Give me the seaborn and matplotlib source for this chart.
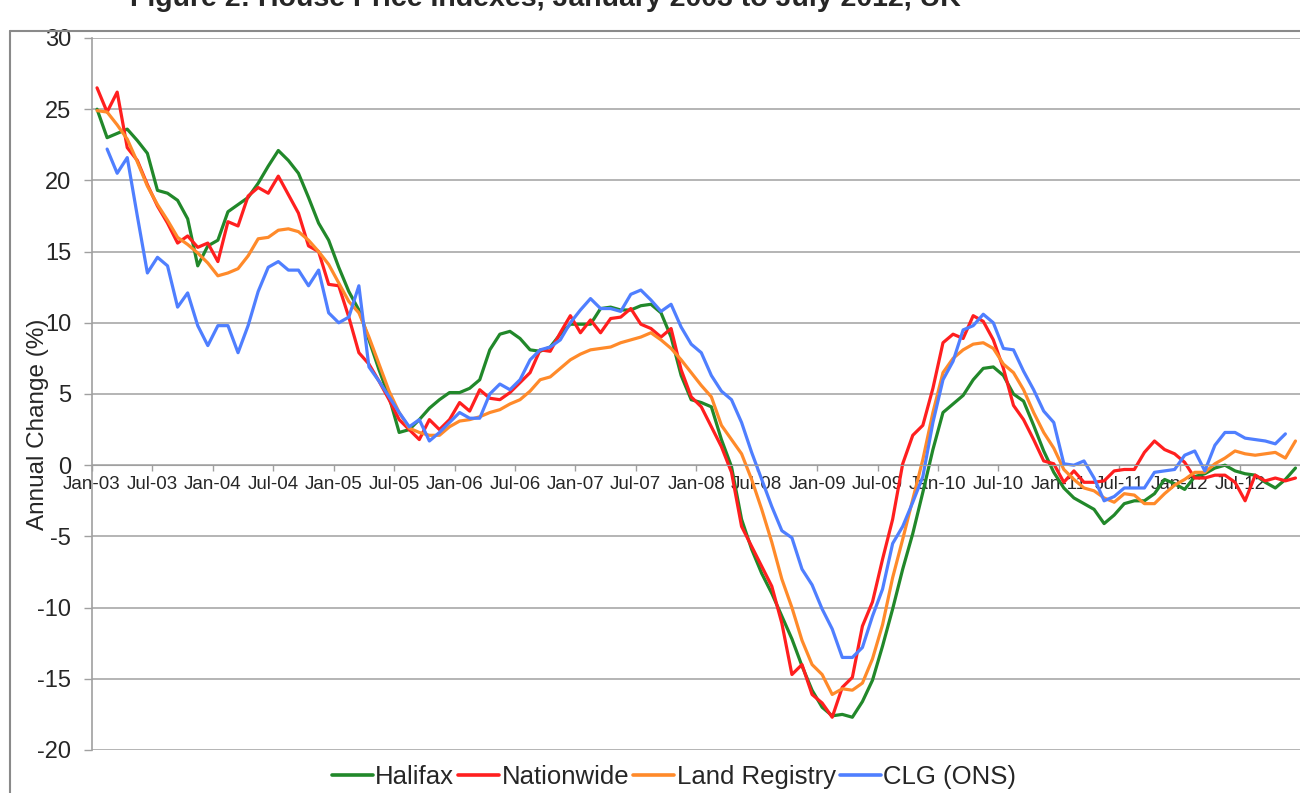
import numpy as np
import pandas as pd
import matplotlib
matplotlib.use("Agg")
import matplotlib.pyplot as plt
import matplotlib.transforms as mtransforms
from matplotlib.lines import Line2D
import seaborn as sns

# annual % change, monthly from Jan-03
halifax = [25.0, 23.0, 23.3, 23.6, 22.8, 21.9, 19.3, 19.1, 18.6, 17.3,
           14.0, 15.4, 15.8, 17.8, 18.3, 18.8, 19.8, 21.0, 22.1, 21.4,
           20.5, 18.8, 17.0, 15.8, 13.9, 12.2, 10.9, 8.8, 6.7, 4.8,
           2.3, 2.5, 3.2, 4.0, 4.6, 5.1, 5.1, 5.4, 6.0, 8.1,
           9.2, 9.4, 8.9, 8.1, 8.0, 8.3, 9.2, 9.9, 9.9, 9.9,
           11.0, 11.1, 10.9, 10.9, 11.2, 11.3, 10.7, 9.0, 6.3, 4.6,
           4.4, 4.1, 1.8, -0.1, -3.8, -5.9, -7.6, -9.0, -10.6, -12.2,
           -14.1, -15.8, -17.0, -17.6, -17.5, -17.7, -16.6, -15.1, -12.7, -10.1,
           -7.3, -4.8, -1.9, 1.1, 3.7, 4.3, 4.9, 6.0, 6.8, 6.9,
           6.3, 5.0, 4.5, 2.8, 1.0, -0.5, -1.6, -2.3, -2.7, -3.1,
           -4.1, -3.5, -2.7, -2.5, -2.5, -2.0, -1.0, -1.3, -1.7, -0.8,
           -0.6, -0.2, 0.0, -0.4, -0.6, -0.7, -1.2, -1.6, -1.0, -0.2]

nationwide = [26.5, 24.8, 26.2, 22.3, 21.4, 19.7, 18.2, 17.0, 15.6, 16.1,
              15.3, 15.6, 14.3, 17.1, 16.8, 18.9, 19.5, 19.1, 20.3, 19.0,
              17.7, 15.4, 15.0, 12.7, 12.6, 10.4, 7.9, 7.1, 5.9, 4.6,
              3.2, 2.5, 1.8, 3.2, 2.5, 3.2, 4.4, 3.8, 5.3, 4.7,
              4.6, 5.1, 5.8, 6.5, 8.1, 8.0, 9.3, 10.5, 9.3, 10.2,
              9.3, 10.3, 10.4, 11.0, 9.9, 9.6, 9.0, 9.6, 6.7, 4.8,
              4.1, 2.7, 1.3, -0.5, -4.3, -5.7, -7.1, -8.5, -11.1, -14.7,
              -14.0, -16.1, -16.7, -17.7, -15.6, -14.9, -11.3, -9.6, -6.6, -3.8,
              0.1, 2.1, 2.8, 5.4, 8.6, 9.2, 8.9, 10.5, 10.1, 8.8,
              6.8, 4.2, 3.2, 1.8, 0.3, 0.1, -1.2, -0.4, -1.2, -1.2,
              -1.1, -0.4, -0.3, -0.3, 0.9, 1.7, 1.1, 0.8, 0.2, -0.9,
              -0.9, -0.7, -0.7, -1.2, -2.5, -0.7, -1.1, -0.9, -1.1, -0.9]

land_registry = [24.9, 24.8, 23.9, 22.9, 21.3, 19.6, 18.3, 17.2, 16.0, 15.5,
                 14.9, 14.2, 13.3, 13.5, 13.8, 14.7, 15.9, 16.0, 16.5, 16.6,
                 16.4, 15.8, 15.0, 14.1, 12.8, 11.5, 10.7, 9.0, 7.1, 5.2,
                 3.7, 2.6, 2.3, 2.1, 2.1, 2.7, 3.1, 3.2, 3.4, 3.7,
                 3.9, 4.3, 4.6, 5.2, 6.0, 6.2, 6.8, 7.4, 7.8, 8.1,
                 8.2, 8.3, 8.6, 8.8, 9.0, 9.3, 8.8, 8.2, 7.4, 6.5,
                 5.6, 4.8, 2.8, 1.8, 0.8, -1.0, -3.1, -5.4, -8.0, -10.0,
                 -12.3, -14.0, -14.7, -16.1, -15.7, -15.8, -15.3, -13.6, -11.2, -7.9,
                 -5.2, -2.4, 0.4, 3.7, 6.5, 7.5, 8.1, 8.5, 8.6, 8.2,
                 7.1, 6.5, 5.3, 3.7, 2.3, 1.2, -0.3, -1.0, -1.6, -1.8,
                 -2.3, -2.6, -2.0, -2.1, -2.7, -2.7, -2.0, -1.4, -1.0, -0.5,
                 -0.5, 0.1, 0.5, 1.0, 0.8, 0.7, 0.8, 0.9, 0.5, 1.7]

clg_ons = [np.nan, 22.2, 20.5, 21.6, 17.5, 13.5, 14.6, 14.0, 11.1, 12.1,
           9.8, 8.4, 9.8, 9.8, 7.9, 9.8, 12.2, 13.9, 14.3, 13.7,
           13.7, 12.6, 13.7, 10.7, 10.0, 10.4, 12.6, 6.9, 5.9, 4.8,
           3.7, 2.7, 3.2, 1.7, 2.3, 3.0, 3.7, 3.3, 3.3, 5.0,
           5.7, 5.3, 6.0, 7.4, 8.1, 8.3, 8.8, 10.0, 10.9, 11.7,
           11.0, 11.0, 10.8, 12.0, 12.3, 11.6, 10.8, 11.3, 9.7, 8.5,
           7.9, 6.3, 5.2, 4.6, 3.0, 0.9, -1.0, -2.9, -4.6, -5.1,
           -7.3, -8.4, -10.1, -11.5, -13.5, -13.5, -12.8, -10.6, -8.7, -5.5,
           -4.3, -2.6, -0.8, 3.0, 6.0, 7.3, 9.5, 9.8, 10.6, 10.0,
           8.2, 8.1, 6.6, 5.3, 3.8, 3.0, 0.1, 0.0, 0.3, -0.9,
           -2.5, -2.2, -1.6, -1.6, -1.6, -0.5, -0.4, -0.3, 0.7, 1.0,
           -0.4, 1.4, 2.3, 2.3, 1.9, 1.8, 1.7, 1.5, 2.2, np.nan]

series_names = ["Halifax", "Nationwide", "Land Registry", "CLG (ONS)"]
series_colors = ["#21882a", "#ff1f1f", "#ff8a2a", "#4f7fff"]

tick_labels = ["Jan-03", "Jul-03", "Jan-04", "Jul-04", "Jan-05", "Jul-05",
               "Jan-06", "Jul-06", "Jan-07", "Jul-07", "Jan-08", "Jul-08",
               "Jan-09", "Jul-09", "Jan-10", "Jul-10", "Jan-11", "Jul-11",
               "Jan-12", "Jul-12"]

n = len(halifax)
df = pd.DataFrame({"month": np.arange(n),
                   "Halifax": halifax, "Nationwide": nationwide,
                   "Land Registry": land_registry, "CLG (ONS)": clg_ons})
long_df = df.melt(id_vars="month", var_name="index", value_name="change").dropna()

sns.set_style("white")
plt.rcParams["font.family"] = ["Liberation Sans", "DejaVu Sans"]
plt.rcParams["axes.unicode_minus"] = False

fig = plt.figure(figsize=(13, 7.93), dpi=100)
ax = fig.add_axes([92 / 1300, 43 / 793, 1208.5 / 1300, 712 / 793])

sns.lineplot(data=long_df, x="month", y="change", hue="index",
             hue_order=series_names, palette=series_colors,
             linewidth=2.3, ax=ax, legend=False)

grid_col = "#a0a0a0"
ax.set_xlim(-0.5, 119.5)
ax.set_ylim(-20, 30)
ax.set_yticks(np.arange(-20, 31, 5))
ax.yaxis.grid(True, color=grid_col, linewidth=1.1)
ax.set_axisbelow(True)
ax.tick_params(axis="y", labelsize=17, length=6, width=1, color=grid_col,
               pad=9, left=True)

ax.set_xticks(np.arange(0, 120, 6) - 0.5)
ax.set_xticklabels(tick_labels)
ax.tick_params(axis="x", labelsize=13.5, length=4, width=1, color=grid_col,
               pad=4, bottom=True)
shift = mtransforms.ScaledTranslation(4 / 100, 0, fig.dpi_scale_trans)
for lbl in ax.get_xticklabels():
    lbl.set_transform(lbl.get_transform() + shift)

for side in ["top", "right"]:
    ax.spines[side].set_visible(False)
ax.spines["bottom"].set_position(("data", 0))
ax.spines["bottom"].set_color(grid_col)
ax.spines["left"].set_color(grid_col)
ax.spines["left"].set_linewidth(1.2)
ax.set_xlabel("")
ax.set_ylabel("")

fig.text(38 / 1300, 1 - 424 / 793, "Annual Change (%)", rotation=90,
         ha="center", va="center", fontsize=17.5)

# chart title, cut off by the top edge as in the source
fig.text(130 / 1300, 1 - 6 / 793, "Figure 2: House Price Indexes, January 2003 to July 2012, UK",
         ha="left", va="baseline", fontsize=20.5, fontweight="bold")

# outer chart frame
fig.add_artist(Line2D([10 / 1300, 10 / 1300], [0, 1 - 31 / 793],
                      transform=fig.transFigure, color="#8a8a8a", lw=1.5))
fig.add_artist(Line2D([10 / 1300, 1], [1 - 31 / 793, 1 - 31 / 793],
                      transform=fig.transFigure, color="#8a8a8a", lw=1.5))

handles = [Line2D([], [], color=c, lw=2.6) for c in series_colors]
fig.legend(handles, series_names, loc="center", ncol=4,
           bbox_to_anchor=(674 / 1300, 1 - 777 / 793), frameon=False,
           fontsize=18.5, handlelength=1.6, handletextpad=0.1,
           columnspacing=0.15, borderaxespad=0)

fig.savefig("out.png", dpi=100)
